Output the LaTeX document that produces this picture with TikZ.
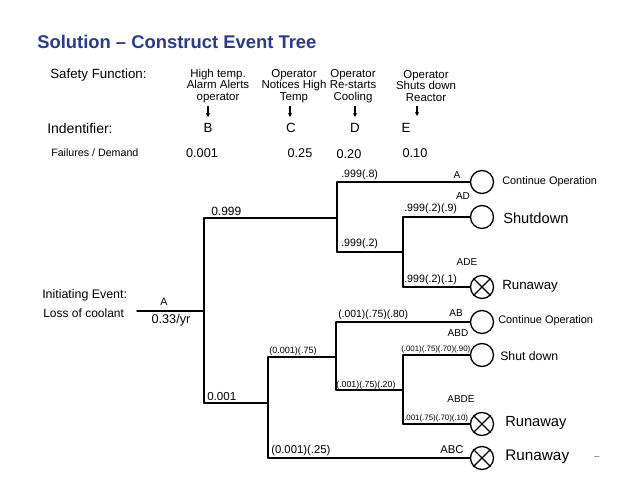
\documentclass[tikz,border=0pt]{standalone}
\usepackage{fontspec}
\setmainfont{Liberation Sans}
\usetikzlibrary{arrows.meta}
\definecolor{titleblue}{RGB}{43,57,144}
\newcommand\myfs[1]{\fontsize{#1}{#1}\selectfont}
\begin{document}
\begin{tikzpicture}[x=0.75pt,y=-0.75pt,
  tree/.style={line width=1.1pt, line cap=round},
  lbl/.style={inner sep=0pt, anchor=west, font=\myfs{7.5}},
  tag/.style={inner sep=0pt, font=\myfs{7.5}},
  outc/.style={inner sep=0pt, anchor=west},
  endc/.style={circle, draw, line width=1pt, minimum size=17.25pt, inner sep=0pt},
  hdr/.style={inner sep=0pt, align=center, font=\fontsize{8.6}{8.6}\selectfont},
  rowl/.style={inner sep=0pt, anchor=west, font=\myfs{9.5}},
  val/.style={inner sep=0pt, font=\myfs{9.5}},
  harrow/.style={-{Stealth[length=3pt,width=3pt]}, line width=0.8pt}]
\useasboundingbox (0,0) rectangle (638,478);
\fill[white] (0,0) rectangle (638,478);

% title
\node[inner sep=0pt, anchor=base west, text=titleblue, font=\bfseries\myfs{13.8}] (title) at (37,49) {Solution – Construct Event Tree};

% header
\node[rowl, font=\myfs{10}] (sf) at (50,75) {Safety Function:};
\node[hdr] (hB) at (218,86) {High temp.\\Alarm Alerts\\operator};
\node[hdr] (hC) at (294,86) {Operator\\Notices High\\Temp};
\node[hdr] (hD) at (353,86) {Operator\\Re-starts\\Cooling};
\node[hdr] (hE) at (426,86) {Operator\\Shuts down\\Reactor};
\coordinate (aB1) at (208,106); \coordinate (aB2) at (208,117);
\coordinate (aC1) at (290,106); \coordinate (aC2) at (290,117);
\coordinate (aD1) at (355,106); \coordinate (aD2) at (355,117);
\coordinate (aE1) at (417,106); \coordinate (aE2) at (417,116);
\draw[harrow] (aB1) -- (aB2);
\draw[harrow] (aC1) -- (aC2);
\draw[harrow] (aD1) -- (aD2);
\draw[harrow] (aE1) -- (aE2);

\node[rowl, font=\myfs{10.5}] (idl) at (47,128) {Indentifier:};
\node[val, font=\myfs{10}] (idB) at (208,128) {B};
\node[val, font=\myfs{10}] (idC) at (291,128) {C};
\node[val, font=\myfs{10}] (idD) at (355,128) {D};
\node[val, font=\myfs{10}] (idE) at (406,128) {E};

\node[rowl, font=\myfs{8}] (fdl) at (51,153) {Failures / Demand};
\node[val] (fB) at (202,153) {0.001};
\node[val] (fC) at (300,153) {0.25};
\node[val] (fD) at (349,154) {0.20};
\node[val] (fE) at (415,153) {0.10};

% initiating event
\node[rowl, font=\myfs{9.3}] (ie1) at (42,295) {Initiating Event:};
\node[rowl, font=\myfs{9}] (ie2) at (43,313) {Loss of coolant};
\node[val, font=\myfs{8}] (iAlbl) at (164,302) {A};
\node[val, font=\myfs{9.5}] (iRate) at (171,320) {0.33/yr};

% tree coordinates
\coordinate (iA) at (137,311);
\coordinate (jB) at (204,311);
\coordinate (jBt) at (204,218);
\coordinate (jBb) at (204,403);
\coordinate (jCt) at (337,218);
\coordinate (jDt) at (337,182);
\coordinate (jDb) at (337,252);
\coordinate (kD) at (403,252);
\coordinate (kDt) at (403,217);
\coordinate (kDb) at (403,287);
\coordinate (jC2) at (268,403);
\coordinate (jC2t) at (268,357);
\coordinate (jC2b) at (268,458);
\coordinate (jD2) at (336,357);
\coordinate (jD2t) at (336,322);
\coordinate (jD2b) at (336,390);
\coordinate (kD2) at (403,390);
\coordinate (kD2t) at (403,355);
\coordinate (kD2b) at (403,424);

% end circles
\node[endc] (o1) at (482,182) {};
\node[endc] (o2) at (482,217) {};
\node[endc] (o3) at (482,287) {};
\node[endc] (o4) at (482,322) {};
\node[endc] (o5) at (482,355) {};
\node[endc] (o6) at (482,424) {};
\node[endc] (o7) at (482,458) {};
\foreach \o in {o3,o6,o7}{
  \draw[line width=1pt] (\o.north west) -- (\o.south east) (\o.north east) -- (\o.south west);
}

% tree lines
\draw[tree] (iA) -- (jB);
\draw[tree] (jBt) -- (jBb);
\draw[tree] (jBt) -- (jCt);
\draw[tree] (jDt) -- (jDb);
\draw[tree] (jDt) -- (o1);
\draw[tree] (jDb) -- (kD);
\draw[tree] (kDt) -- (kDb);
\draw[tree] (kDt) -- (o2);
\draw[tree] (kDb) -- (o3);
\draw[tree] (jBb) -- (jC2);
\draw[tree] (jC2t) -- (jC2b);
\draw[tree] (jC2t) -- (jD2);
\draw[tree] (jD2t) -- (jD2b);
\draw[tree] (jD2t) -- (o4);
\draw[tree] (jD2b) -- (kD2);
\draw[tree] (kD2t) -- (kD2b);
\draw[tree] (kD2t) -- (o5);
\draw[tree] (kD2b) -- (o6);
\draw[tree] (jC2b) -- (o7);

% branch labels
\node[lbl, font=\myfs{9}] (l1) at (211,211) {0.999};
\node[lbl, font=\myfs{8}] (l2) at (341,175) {.999(.8)};
\node[lbl, font=\myfs{8}] (l3) at (341,244) {.999(.2)};
\node[lbl, font=\myfs{8}] (l4) at (404,209) {.999(.2)(.9)};
\node[lbl, font=\myfs{8}] (l5) at (404,280) {.999(.2)(.1)};
\node[lbl, font=\myfs{8.7}] (l6) at (207,397) {0.001};
\node[lbl, font=\myfs{6.8}] (l7) at (269,351) {(0.001)(.75)};
\node[lbl, font=\myfs{7.8}] (l8) at (338,315) {(.001)(.75)(.80)};
\node[lbl, font=\myfs{6.6}] (l9) at (336,385) {(.001)(.75)(.20)};
\node[lbl, font=\myfs{5.9}] (l10) at (401,349) {(.001)(.75)(.70)(.90)};
\node[lbl, font=\myfs{5.9}] (l11) at (404,418) {.001(.75)(.70)(.10)};
\node[lbl, font=\myfs{8.5}] (l12) at (271,451) {(0.001)(.25)};

% sequence tags
\node[tag] (tA) at (457,175) {A};
\node[tag] (tAD) at (463,196) {AD};
\node[tag] (tADE) at (467,262) {ADE};
\node[tag] (tAB) at (456,313) {AB};
\node[tag] (tABD) at (458,333) {ABD};
\node[tag] (tABDE) at (461,399) {ABDE};
\node[tag, font=\myfs{8.5}] (tABC) at (452,450) {ABC};

% outcomes
\node[outc, font=\myfs{8.2}] (r1) at (502,182) {Continue Operation};
\node[outc, font=\myfs{11}] (r2) at (503,218) {Shutdown};
\node[outc, font=\myfs{10}] (r3) at (502,286) {Runaway};
\node[outc, font=\myfs{8.2}] (r4) at (498,321) {Continue Operation};
\node[outc, font=\myfs{9.2}] (r5) at (500,356) {Shut down};
\node[outc, font=\myfs{11}] (r6) at (505,423) {Runaway};
\node[outc, font=\myfs{11.5}] (r7) at (505,457) {Runaway};
\node[inner sep=0pt, text=black!70, font=\myfs{7}] (dash) at (597,458) {–};
\end{tikzpicture}
\end{document}
